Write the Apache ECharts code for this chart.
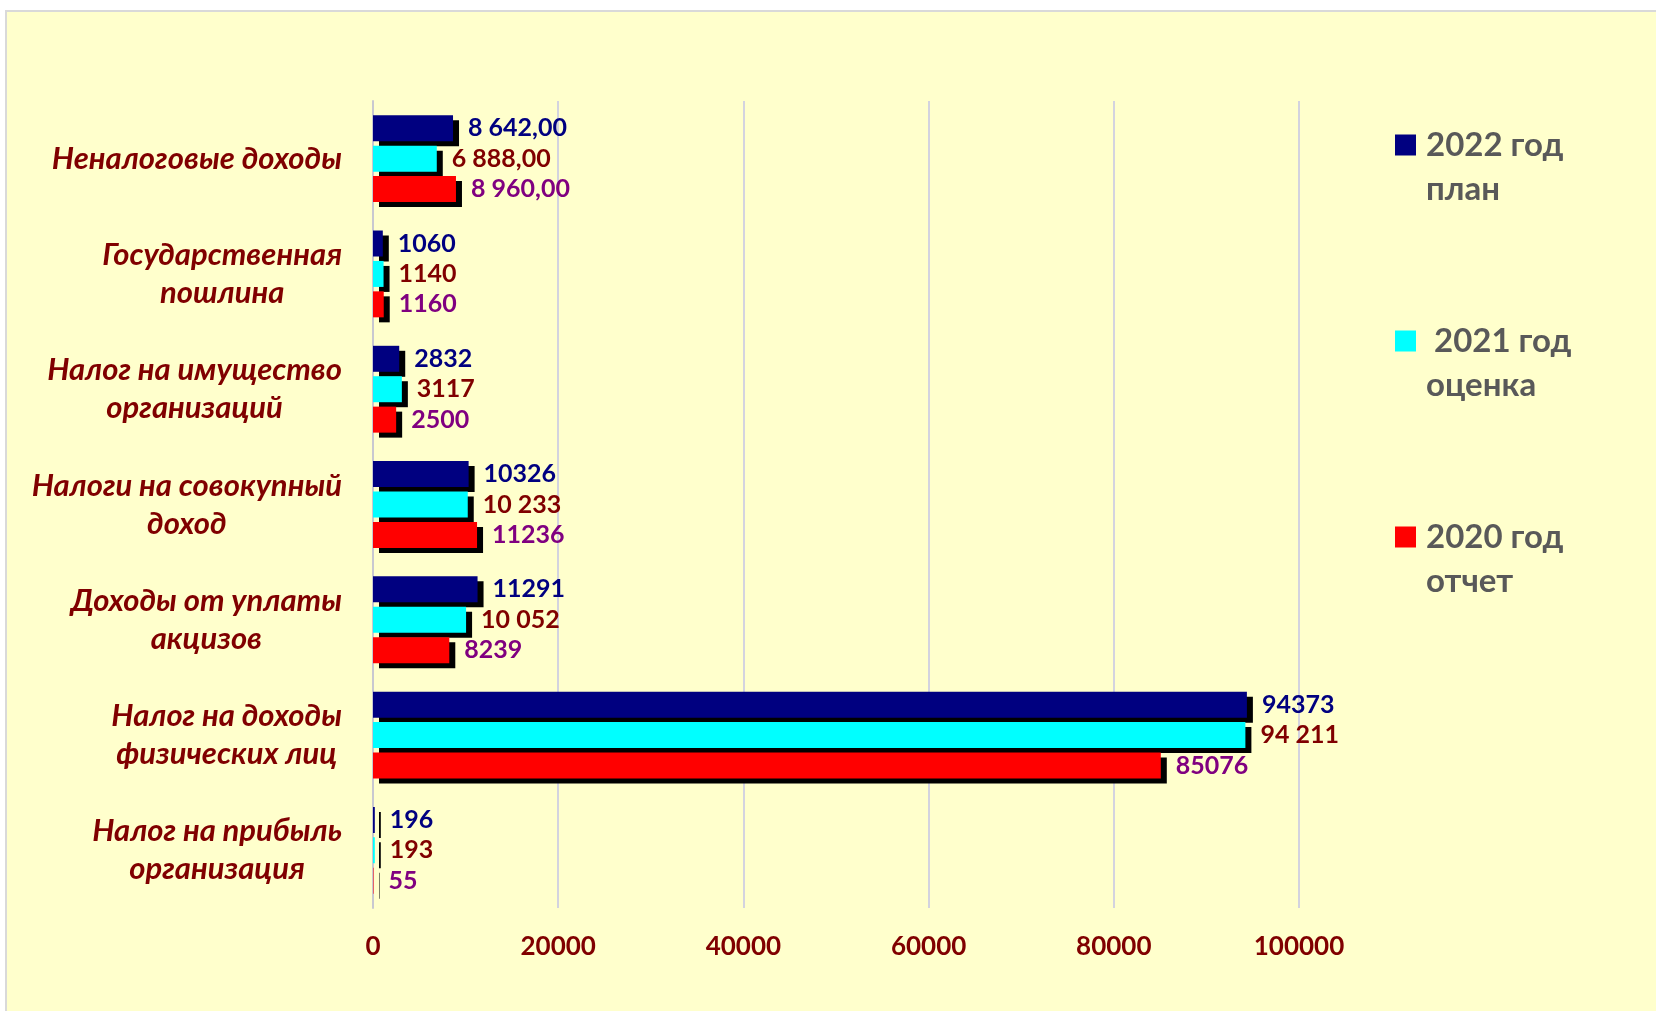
<!DOCTYPE html>
<html>
<head>
<meta charset="utf-8">
<title>Доходы бюджета</title>
<script src="https://cdn.jsdelivr.net/npm/echarts@6/dist/echarts.min.js"></script>
<style>
  html, body { margin: 0; padding: 0; background: #ffffff; }
  #paper {
    position: absolute; left: 5px; top: 10px; width: 1651px; height: 1001px;
    background: #ffffcc; border-top: 2px solid #d9d9d9; border-left: 2px solid #d9d9d9;
    box-sizing: border-box;
  }
  #chart { position: absolute; left: 0; top: 0; width: 1656px; height: 1011px; }
</style>
</head>
<body>
<div id="paper"></div>
<div id="chart"></div>
<script>
// categories, top to bottom
const categories = [
  'Неналоговые доходы',
  'Государственная\nпошлина',
  'Налог на имущество\nорганизаций',
  'Налоги на совокупный\nдоход',
  'Доходы от уплаты\nакцизов',
  'Налог на доходы\nфизических лиц',
  'Налог на прибыль\nорганизация'
]

const seriesNames = ['2022 год\nплан', ' 2021 год\nоценка', '2020 год\nотчет']

const plan2022 = [8642, 1060, 2832, 10326, 11291, 94373, 196]
const est2021 = [6888, 1140, 3117, 10233, 10052, 94211, 193]
const fact2020 = [8960, 1160, 2500, 11236, 8239, 85076, 55]

// labels as printed on the slide
const plan2022Labels = ['8 642,00', '1060', '2832', '10326', '11291', '94373', '196']
const est2021Labels = ['6 888,00', '1140', '3117', '10 233', '10 052', '94 211', '193']
const fact2020Labels = ['8 960,00', '1160', '2500', '11236', '8239', '85076', '55']

const xTicks = [0, 20000, 40000, 60000, 80000, 100000]

const FONT = 'Lato'

function makeSeries(name, data, labels, color, labelColor) {
  return {
    name: name,
    type: 'bar',
    data: data,
    barWidth: 26,
    barGap: '17%',
    itemStyle: {
      color: color,
      shadowColor: '#000000',
      shadowBlur: 0,
      shadowOffsetX: 6,
      shadowOffsetY: 5
    },
    label: {
      show: true,
      position: 'right',
      distance: 15,
      color: labelColor,
      fontFamily: FONT,
      fontWeight: 'bold',
      fontSize: 25,
      formatter: p => labels[p.dataIndex]
    },
    animation: false
  }
}

const chart = echarts.init(document.getElementById('chart'))

chart.setOption({
  backgroundColor: 'transparent',
  grid: {
    left: 373,
    right: 357,
    top: 101,
    bottom: 103,
    containLabel: false
  },
  legend: {
    orient: 'vertical',
    left: 1395,
    top: 79,
    padding: 0,
    itemGap: 64,
    itemWidth: 21,
    itemHeight: 21,
    icon: 'rect',
    itemStyle: { shadowColor: 'transparent', shadowBlur: 0, shadowOffsetX: 0, shadowOffsetY: 0 },
    data: seriesNames,
    // empty first line keeps the marker level with the first text line
    formatter: name => '\n' + name,
    textStyle: {
      color: '#595959',
      fontFamily: FONT,
      fontWeight: 'bold',
      fontSize: 33,
      lineHeight: 44,
      padding: [0, 0, 0, 5]
    }
  },
  xAxis: {
    type: 'value',
    min: xTicks[0],
    max: xTicks[xTicks.length - 1],
    interval: 20000,
    axisLine: { show: false },
    axisTick: { show: false },
    splitLine: { show: true, lineStyle: { color: '#d3d3df', width: 2 } },
    axisLabel: {
      margin: 26,
      color: '#800000',
      fontFamily: FONT,
      fontWeight: 'bold',
      fontSize: 26,
      formatter: v => String(v)
    }
  },
  yAxis: {
    type: 'category',
    inverse: true,
    data: categories,
    axisLine: { show: true, lineStyle: { color: '#c8c8d0', width: 2 } },
    axisTick: { show: false },
    axisLabel: {
      margin: 31,
      formatter: v => v.split('\n').map(s => '{c|' + s + '}').join('\n'),
      rich: {
        c: {
          align: 'center',
          color: '#800000',
          fontFamily: FONT,
          fontStyle: 'italic',
          fontWeight: 'bold',
          fontSize: 31,
          lineHeight: 38
        }
      }
    }
  },
  series: [
    makeSeries(seriesNames[0], plan2022, plan2022Labels, '#000080', '#000080'),
    makeSeries(seriesNames[1], est2021, est2021Labels, '#00ffff', '#800000'),
    makeSeries(seriesNames[2], fact2020, fact2020Labels, '#ff0000', '#800080')
  ]
})
</script>
</body>
</html>
